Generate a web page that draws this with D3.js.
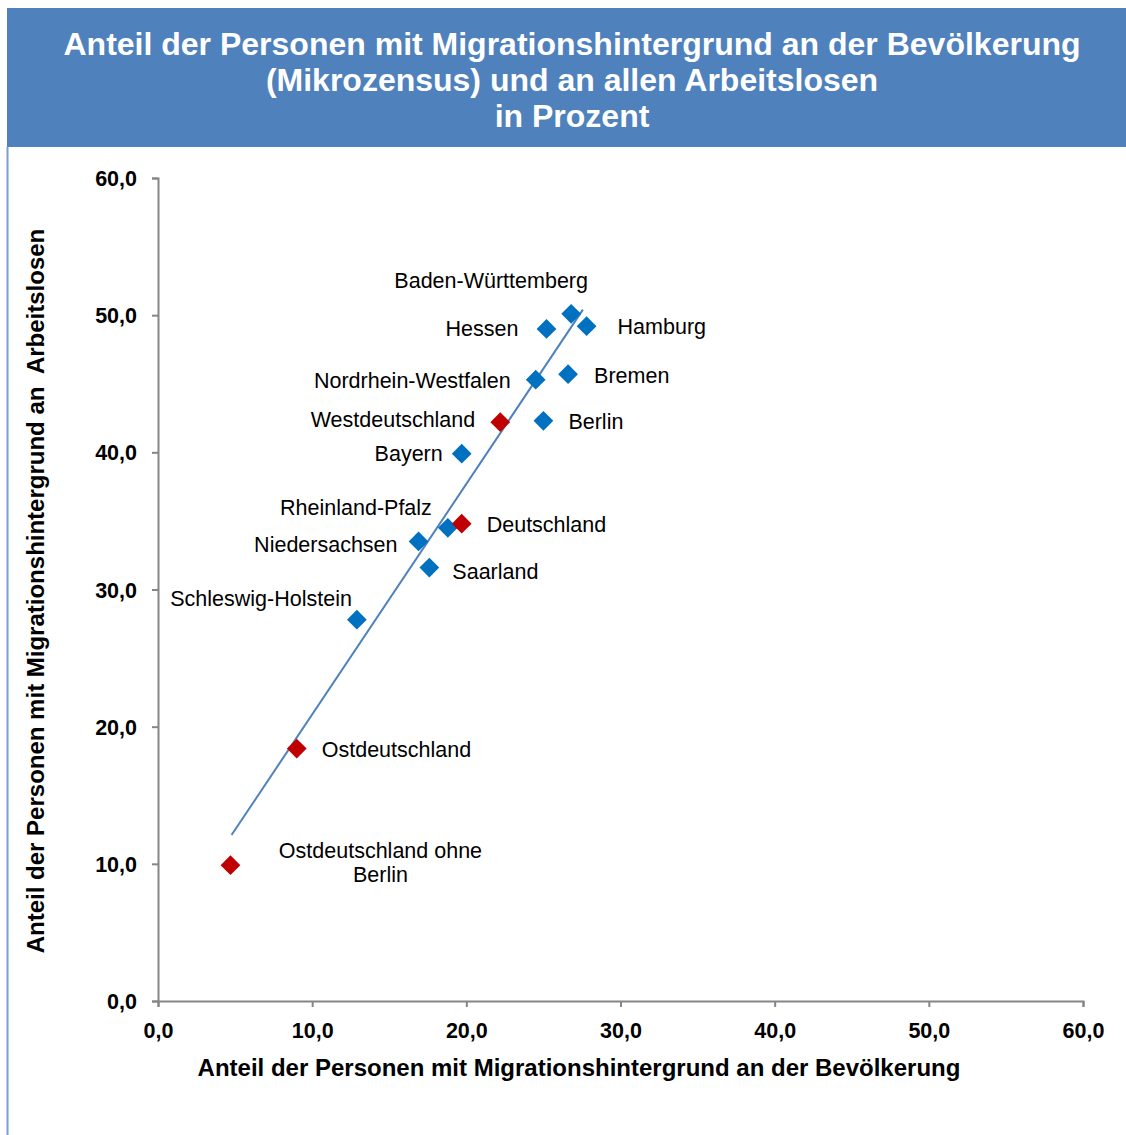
<!DOCTYPE html>
<html>
<head>
<meta charset="utf-8">
<script src="https://cdn.jsdelivr.net/npm/d3@7"></script>
<style>
  body { margin: 0; background: #fff; }
  svg { display: block; font-family: Arial, "Liberation Sans", sans-serif; }
</style>
</head>
<body>
<svg id="chart"></svg>
<script>
// Werte
const regions = ['Baden-Württemberg', 'Hessen', 'Hamburg', 'Nordrhein-Westfalen', 'Bremen',
  'Westdeutschland', 'Berlin', 'Bayern', 'Rheinland-Pfalz', 'Deutschland', 'Niedersachsen',
  'Saarland', 'Schleswig-Holstein', 'Ostdeutschland', 'Ostdeutschland ohne Berlin'];
const popShare = [26.8, 25.2, 27.8, 24.5, 26.6, 22.2, 25.0, 19.7, 18.8, 19.7, 16.9, 17.6, 12.9, 9.0, 4.7];
const unempShare = [50.1, 49.0, 49.2, 45.3, 45.7, 42.2, 42.3, 39.9, 34.5, 34.8, 33.5, 31.6, 27.8, 18.4, 9.9];
const aggregate = ['Westdeutschland', 'Deutschland', 'Ostdeutschland', 'Ostdeutschland ohne Berlin'];
const tickValues = [0, 10, 20, 30, 40, 50, 60];
// Trendlinie: Endpunkte
const trendX = [4.77, 27.56];
const trendY = [12.1, 50.4];

// Beschriftungen: Lage relativ zum Punkt
const labelPos = {
  'Baden-Württemberg': { dx: -80, dy: -33, anchor: 'middle' },
  'Hessen': { dx: -28, dy: 0, anchor: 'end' },
  'Hamburg': { dx: 31, dy: 0, anchor: 'start' },
  'Nordrhein-Westfalen': { dx: -25, dy: 1, anchor: 'end' },
  'Bremen': { dx: 26, dy: 1, anchor: 'start' },
  'Westdeutschland': { dx: -25, dy: -3, anchor: 'end' },
  'Berlin': { dx: 25, dy: 1, anchor: 'start' },
  'Bayern': { dx: -19, dy: 0, anchor: 'end' },
  'Rheinland-Pfalz': { dx: -16, dy: -20, anchor: 'end' },
  'Deutschland': { dx: 25, dy: 1, anchor: 'start' },
  'Niedersachsen': { dx: -21, dy: 3, anchor: 'end' },
  'Saarland': { dx: 23, dy: 4, anchor: 'start' },
  'Schleswig-Holstein': { dx: -5, dy: -21, anchor: 'end' },
  'Ostdeutschland': { dx: 25, dy: 1, anchor: 'start' },
  'Ostdeutschland ohne Berlin': { dx: 150, dy: -15, anchor: 'middle' }
};

const W = 1126, H = 1135;
const margin = { top: 178, right: 43, bottom: 134, left: 158 };
const width = W - margin.left - margin.right;
const height = H - margin.top - margin.bottom;

const svg = d3.select('#chart').attr('width', W).attr('height', H);

// Kopfzeile
svg.append('rect')
  .attr('x', 7).attr('y', 8).attr('width', W - 7).attr('height', 139)
  .attr('fill', '#4F81BD');
svg.append('line')
  .attr('x1', 7.5).attr('x2', 7.5).attr('y1', 147).attr('y2', H)
  .attr('stroke', '#7A9FD0').attr('stroke-width', 2);

const titleLines = ['Anteil der Personen mit Migrationshintergrund an der Bevölkerung',
  '(Mikrozensus) und an allen Arbeitslosen', 'in Prozent'];
svg.append('text')
  .attr('x', 572).attr('y', 55)
  .attr('text-anchor', 'middle')
  .attr('fill', '#fff').attr('font-weight', 'bold').attr('font-size', 32)
  .selectAll('tspan')
  .data(titleLines)
  .enter()
  .append('tspan')
  .attr('x', 572)
  .attr('dy', (d, i) => i === 0 ? 0 : 36)
  .text(d => d);

const x = d3.scaleLinear().domain([0, 60]).range([0, width]);
const y = d3.scaleLinear().domain([0, 60]).range([height, 0]);
const fmt = d => d.toFixed(1).replace('.', ',');

const chart = svg.append('g')
  .attr('transform', `translate(${ margin.left }, ${ margin.top })`);

const xAxis = chart.append('g')
  .attr('transform', `translate(0, ${ height })`)
  .call(d3.axisBottom(x).tickValues(tickValues).tickFormat(fmt).tickSizeOuter(0).tickSize(6).tickPadding(16));
const yAxis = chart.append('g')
  .call(d3.axisLeft(y).tickValues(tickValues).tickFormat(fmt).tickSizeOuter(0).tickSize(6).tickPadding(15));

[xAxis, yAxis].forEach(a => {
  a.select('.domain').attr('stroke', '#868686').attr('stroke-width', 2);
  a.selectAll('.tick line').attr('stroke', '#868686').attr('stroke-width', 2);
  a.selectAll('.tick text')
    .attr('fill', '#000').attr('font-size', 21.5).attr('font-weight', 'bold')
    .attr('font-family', 'Arial, "Liberation Sans", sans-serif');
});
yAxis.selectAll('.tick text').attr('dy', '0.35em');

// Achsentitel
svg.append('text')
  .attr('x', 579).attr('y', 1076)
  .attr('text-anchor', 'middle')
  .attr('font-size', 24).attr('font-weight', 'bold')
  .text('Anteil der Personen mit Migrationshintergrund an der Bevölkerung');
svg.append('text')
  .attr('transform', 'translate(44, 591) rotate(-90)')
  .attr('text-anchor', 'middle')
  .attr('font-size', 24).attr('font-weight', 'bold')
  .attr('xml:space', 'preserve')
  .style('white-space', 'pre')
  .text('Anteil der Personen mit Migrationshintergrund an  Arbeitslosen');

const data = regions.map((r, i) => ({ name: r, px: popShare[i], py: unempShare[i], agg: aggregate.includes(r) }));

// Trendlinie
chart.append('path')
  .datum(d3.zip(trendX, trendY))
  .attr('d', d3.line().x(d => x(d[0])).y(d => y(d[1])))
  .attr('fill', 'none')
  .attr('stroke', '#4F81BD').attr('stroke-width', 2);

// Punkte (Rauten)
const diamond = d3.symbol().type(d3.symbolSquare).size(195);
const order = data.filter(d => !d.agg).concat(data.filter(d => d.agg));
chart.selectAll('path.pt')
  .data(order)
  .enter()
  .append('path')
  .attr('class', 'pt')
  .attr('d', diamond)
  .attr('transform', d => `translate(${ x(d.px) }, ${ y(d.py) }) rotate(45)`)
  .attr('fill', d => d.agg ? '#C00000' : '#0070C0');

// Beschriftungen
const lbl = chart.selectAll('text.lbl')
  .data(data)
  .enter()
  .append('text')
  .attr('class', 'lbl')
  .attr('font-size', 21.5)
  .attr('fill', '#000')
  .attr('text-anchor', d => labelPos[d.name].anchor)
  .attr('transform', d => `translate(${ x(d.px) + labelPos[d.name].dx }, ${ y(d.py) + labelPos[d.name].dy })`);
lbl.selectAll('tspan')
  .data(d => d.name === 'Ostdeutschland ohne Berlin' ? ['Ostdeutschland ohne', 'Berlin'] : [d.name])
  .enter()
  .append('tspan')
  .attr('x', 0)
  .attr('dy', (d, i) => i === 0 ? '0.35em' : 24)
  .text(d => d);
</script>
</body>
</html>
